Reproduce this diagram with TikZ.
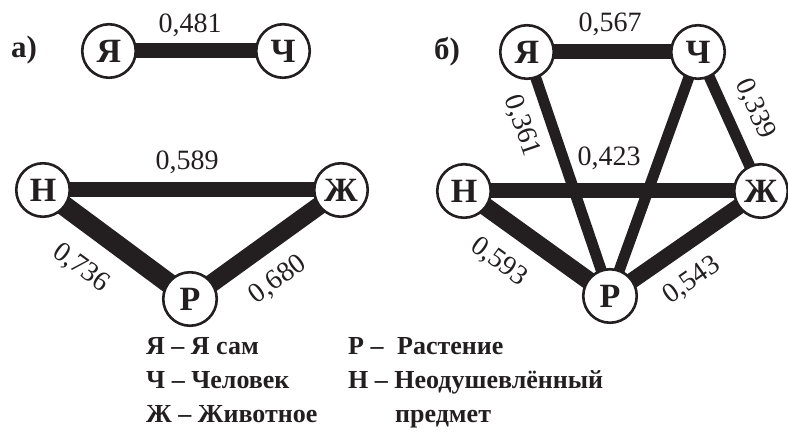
\documentclass[tikz,border=0pt]{standalone}
\usepackage{fontspec}
\setmainfont{Liberation Serif}
\usetikzlibrary{backgrounds}
\definecolor{ink}{HTML}{231F20}
\tikzset{
  vert/.style={circle, draw=ink, line width=2.6bp, fill=white, minimum size=53.5bp, inner sep=0pt,
    text=ink, font=\fontsize{34bp}{34bp}\selectfont\bfseries},
  link/.style={draw=ink, line cap=butt},
  wlabel/.style={text=ink, inner sep=0pt, font=\fontsize{28bp}{28bp}\selectfont},
  panel/.style={text=ink, inner sep=0pt, font=\fontsize{31bp}{31bp}\selectfont\bfseries},
  legend/.style={text=ink, inner sep=0pt, anchor=base west, font=\fontsize{26bp}{26bp}\selectfont\bfseries}
}
\begin{document}
\begin{tikzpicture}[x=1bp, y=-1bp]
\useasboundingbox (0,0) rectangle (788,433);

% panel (a)
\node[panel] (la) at (24,50) {а)};
\node[vert] (aY) at (109,51) {Я};
\node[vert] (aC) at (283,51) {Ч};
\node[vert] (aN) at (43,190) {Н};
\node[vert] (aZ) at (341,190) {Ж};
\node[vert] (aR) at (190,299) {Р};

% panel (b)
\node[panel] (lb) at (447,52) {б)};
\node[vert] (bY) at (527,52) {Я};
\node[vert] (bC) at (698,52) {Ч};
\node[vert] (bN) at (464,191) {Н};
\node[vert] (bZ) at (761,191) {Ж};
\node[vert] (bR) at (610,296) {Р};

\begin{pgfonlayer}{background}
  \draw[link, line width=15bp] (aY.center) -- (aC.center);
  \draw[link, line width=15bp] (aN.center) -- (aZ.center);
  \draw[link, line width=20bp] (aN.center) -- (aR.center);
  \draw[link, line width=18bp] (aR.center) -- (aZ.center);

  \draw[link, line width=15bp] (bY.center) -- (bC.center);
  \draw[link, line width=11bp] (bY.center) -- (bR.center);
  \draw[link, line width=11bp] (bC.center) -- (bR.center);
  \draw[link, line width=11bp] (bC.center) -- (bZ.center);
  \draw[link, line width=15bp] (bN.center) -- (bZ.center);
  \draw[link, line width=18bp] (bN.center) -- (bR.center);
  \draw[link, line width=16bp] (bR.center) -- (bZ.center);
\end{pgfonlayer}

% weights, panel (a)
\node[wlabel] (wa1) at (190,25) {0,481};
\node[wlabel] (wa2) at (187,162) {0,589};
\node[wlabel, rotate=-36] (wa3) at (81,268) {0,736};
\node[wlabel, rotate=36] (wa4) at (278,280) {0,680};

% weights, panel (b)
\node[wlabel] (wb1) at (610,24) {0,567};
\node[wlabel, rotate=-71] (wb2) at (522,126) {0,361};
\node[wlabel, rotate=-66] (wb3) at (755,109) {0,339};
\node[wlabel] (wb4) at (609,158) {0,423};
\node[wlabel, rotate=-36] (wb5) at (499,262) {0,593};
\node[wlabel, rotate=35] (wb6) at (692,281) {0,543};

% legend
\node[legend] (k1) at (146,355) {Я – Я сам};
\node[legend] (k2) at (146,388) {Ч – Человек};
\node[legend] (k3) at (146,422) {Ж – Животное};
\node[legend] (k4) at (348,355) {Р –};
\node[legend] (k5) at (397,355) {Растение};
\node[legend] (k6) at (348,388) {Н – Неодушевлённый};
\node[legend] (k7) at (395,422) {предмет};
\end{tikzpicture}
\end{document}
